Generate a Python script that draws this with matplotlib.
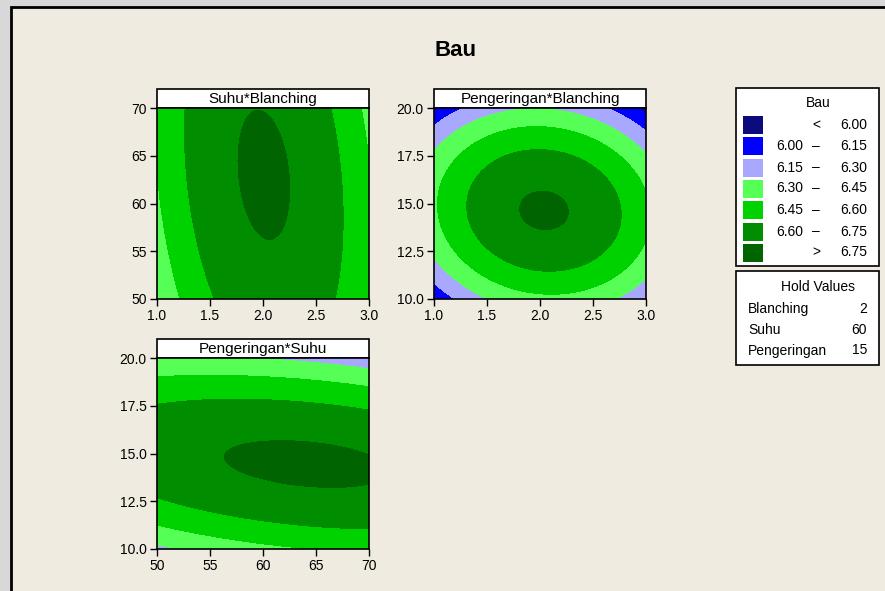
import numpy as np
import matplotlib
matplotlib.use("Agg")
import matplotlib.pyplot as plt
from matplotlib.patches import Rectangle

plt.rcParams['font.family'] = ['Liberation Sans', 'DejaVu Sans']

# ---- data -------------------------------------------------------------
title = "Bau"
factor_names = ["Blanching", "Suhu", "Pengeringan"]
factor_low = [1.0, 50.0, 10.0]
factor_high = [3.0, 70.0, 20.0]
hold_values = [2, 60, 15]

# fitted quadratic response surface, coded units (-1..1)
coef_const = 6.764
coef_linear = [0.020, 0.025, -0.058]          # B, S, P
coef_square = [-0.315, -0.041, -0.4125]       # B^2, S^2, P^2
coef_inter = {(0, 1): -0.050, (0, 2): -0.050, (1, 2): -0.080}

levels = [6.00, 6.15, 6.30, 6.45, 6.60, 6.75]
level_colors = ["#0B0B7E", "#0000FF", "#A8A8FF", "#55FF55",
                "#00D200", "#008E00", "#006400"]
legend_left = ["", "6.00", "6.15", "6.30", "6.45", "6.60", ""]
legend_mid = ["<", "–", "–", "–", "–", "–", ">"]
legend_right = ["6.00", "6.15", "6.30", "6.45", "6.60", "6.75", "6.75"]

panels = [  # (x factor, y factor, label)
    (0, 1, "Suhu*Blanching"),
    (0, 2, "Pengeringan*Blanching"),
    (1, 2, "Pengeringan*Suhu"),
]
xticks = {0: [1.0, 1.5, 2.0, 2.5, 3.0], 1: [50, 55, 60, 65, 70],
          2: [10.0, 12.5, 15.0, 17.5, 20.0]}
xticklabels = {0: ["1.0", "1.5", "2.0", "2.5", "3.0"],
               1: ["50", "55", "60", "65", "70"],
               2: ["10.0", "12.5", "15.0", "17.5", "20.0"]}


def response(vals):
    coded = [(v - (lo + hi) / 2) / ((hi - lo) / 2)
             for v, lo, hi in zip(vals, factor_low, factor_high)]
    y = coef_const
    for i in range(3):
        y = y + coef_linear[i] * coded[i] + coef_square[i] * coded[i] ** 2
    for (i, j), c in coef_inter.items():
        y = y + c * coded[i] * coded[j]
    return y


# ---- figure -----------------------------------------------------------
W, H = 885, 591
fig = plt.figure(figsize=(W / 100, H / 100), dpi=100)
fig.patch.set_facecolor("#D8D8D8")

ov = fig.add_axes([0, 0, 1, 1], zorder=0)
ov.set_xlim(0, W)
ov.set_ylim(H, 0)
ov.axis("off")
ov.add_patch(Rectangle((10.5, 6.5), W, H, facecolor="#EFEBE0",
                       edgecolor="black", linewidth=2))

ov.text(455, 51, title, ha="center", va="center", fontsize=16,
        fontweight="bold")

boxes = [(157, 108, 299), (434, 108, 299), (157, 358, 549)]
axw = 212
lev_full = [4.0] + levels + [9.0]

for (fx, fy, lab), (x0, ytop, ybot) in zip(panels, boxes):
    ax = fig.add_axes([x0 / W, 1 - ybot / H, axw / W, (ybot - ytop) / H],
                      zorder=1)
    gx = np.linspace(factor_low[fx], factor_high[fx], 121)
    gy = np.linspace(factor_low[fy], factor_high[fy], 121)
    X, Y = np.meshgrid(gx, gy)
    vals = [np.full_like(X, hv, dtype=float) for hv in hold_values]
    vals[fx] = X
    vals[fy] = Y
    Z = response(vals)
    ax.contourf(X, Y, Z, levels=lev_full, colors=level_colors)
    ax.set_xlim(factor_low[fx], factor_high[fx])
    ax.set_ylim(factor_low[fy], factor_high[fy])
    ax.set_xticks(xticks[fx])
    ax.set_xticklabels(xticklabels[fx])
    ax.set_yticks(xticks[fy])
    ax.set_yticklabels(xticklabels[fy])
    ax.tick_params(direction="out", length=5, width=1, pad=2.5,
                   labelsize=10, color="black")
    for sp in ax.spines.values():
        sp.set_linewidth(1.2)
    # title box
    ov.add_patch(Rectangle((x0, ytop - 19.5), axw, 19.5, facecolor="white",
                           edgecolor="black", linewidth=1.2, zorder=3))
    ov.text(x0 + axw / 2, ytop - 9.5, lab, ha="center", va="center",
            fontsize=11, zorder=4)

# legend box
ov.add_patch(Rectangle((736, 88), 143, 178, facecolor="white",
                       edgecolor="black", linewidth=1.2))
ov.text(818, 103, title, ha="center", va="center", fontsize=10)
row_y = [125, 146, 167.5, 188.5, 210, 231.5, 252.5]
for yy, c, l, m, r in zip(row_y, level_colors, legend_left, legend_mid,
                          legend_right):
    ov.add_patch(Rectangle((743, yy - 9), 20, 18, facecolor=c,
                           edgecolor="none"))
    ov.text(803, yy, l, ha="right", va="center", fontsize=10)
    ov.text(816, yy, m, ha="center", va="center", fontsize=10)
    ov.text(867, yy, r, ha="right", va="center", fontsize=10)

# hold values box
ov.add_patch(Rectangle((736, 271), 143, 94, facecolor="white",
                       edgecolor="black", linewidth=1.2))
ov.text(818, 287, "Hold Values", ha="center", va="center", fontsize=10)
for yy, name, hv in zip([309, 329.5, 350.5], factor_names, hold_values):
    ov.text(748, yy, name, ha="left", va="center", fontsize=10)
    ov.text(867, yy, str(hv), ha="right", va="center", fontsize=10)

fig.savefig("out.png", dpi=100, facecolor=fig.get_facecolor())
